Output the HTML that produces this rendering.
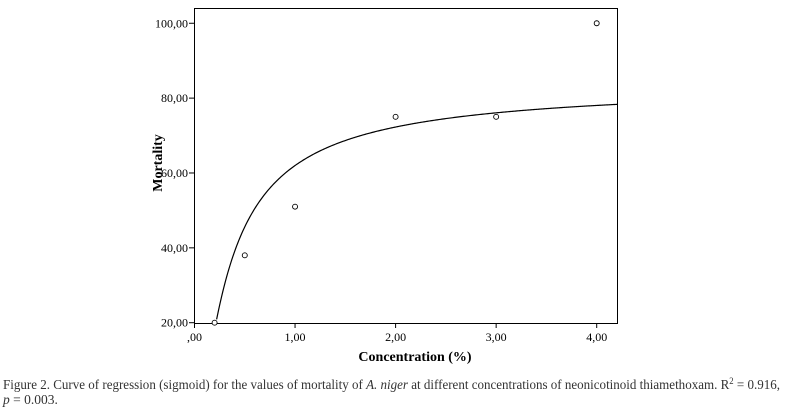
<!DOCTYPE html>
<html><head><meta charset="utf-8"><style>
html,body{margin:0;padding:0;background:#fff;width:796px;height:414px;overflow:hidden}
svg{display:block}
text{font-family:"Liberation Serif",serif}
</style></head><body>
<svg id="chart" width="796" height="414" viewBox="0 0 796 414" xmlns="http://www.w3.org/2000/svg">
<rect x="194.5" y="8.5" width="423" height="315" fill="none" stroke="#000" stroke-width="1"/>
<g id="ticks"></g>
<g id="marks"></g>
<text x="415" y="361" text-anchor="middle" font-size="14" font-weight="bold">Concentration (%)</text>
<text transform="translate(162,163) rotate(-90)" text-anchor="middle" font-size="14" font-weight="bold">Mortality</text>
<text x="3" y="389" font-size="13.5" fill="#333" textLength="777" lengthAdjust="spacingAndGlyphs">Figure 2. Curve of regression (sigmoid) for the values of mortality of <tspan font-style="italic">A. niger</tspan> at different concentrations of neonicotinoid thiamethoxam. R<tspan font-size="9" dy="-5">2</tspan><tspan dy="5"> = 0.916,</tspan></text>
<text x="3" y="404" font-size="13.5" fill="#333"><tspan font-style="italic">p</tspan> = 0.003.</text>
</svg>
<script>
const xTicks=[0,1,2,3,4];
const xTickLabels=[",00","1,00","2,00","3,00","4,00"];
const yTicks=[20,40,60,80,100];
const yTickLabels=["20,00","40,00","60,00","80,00","100,00"];
const concentration=[0.2,0.5,1,2,3,4];
const mortality=[20,38,51,75,75,100];
const fitCoef=[4.434,-0.307]; // S-curve: y = exp(b0 + b1/x)
const NS="http://www.w3.org/2000/svg";
const X0=194.5,XS=100.55,Y0=322.7,YS=3.743;
function xs(v){return X0+v*XS;}
function ys(v){return Y0-(v-20)*YS;}
const tg=document.getElementById('ticks'),mg=document.getElementById('marks');
function mk(t,a,p){const e=document.createElementNS(NS,t);for(const k in a)e.setAttribute(k,a[k]);p.appendChild(e);return e;}
xTicks.forEach((v,i)=>{
  const l=mk('line',{x1:xs(v),x2:xs(v),y1:323.5,y2:328,stroke:'#000'},tg);
  
  
  const t=mk('text',{x:xs(v),y:341,'text-anchor':'middle','font-size':'12'},tg);
  t.textContent=xTickLabels[i];
  
  
});
yTicks.forEach((v,i)=>{
  const l=mk('line',{x1:189,x2:194.5,y1:ys(v),y2:ys(v),stroke:'#000'},tg);
  
  
  const t=mk('text',{x:188,y:ys(v)+4,'text-anchor':'end','font-size':'12'},tg);
  t.textContent=yTickLabels[i];
  
  
});
let d='';let started=false;
for(let x=0.15;x<=4.21;x+=0.01){
  const y=Math.exp(fitCoef[0]+fitCoef[1]/x);
  if(y<20)continue;
  d+=(started?'L':'M')+xs(x).toFixed(2)+','+ys(y).toFixed(2);started=true;
}
const curve=mk('path',{d:d,fill:'none',stroke:'#000','stroke-width':'1.2'},mg);


concentration.forEach((c,i)=>{
  const p=mk('circle',{cx:xs(c),cy:ys(mortality[i]),r:2.5,fill:'#fff',stroke:'#000','stroke-width':'0.9'},mg);
  
  
});
</script>
</body></html>
